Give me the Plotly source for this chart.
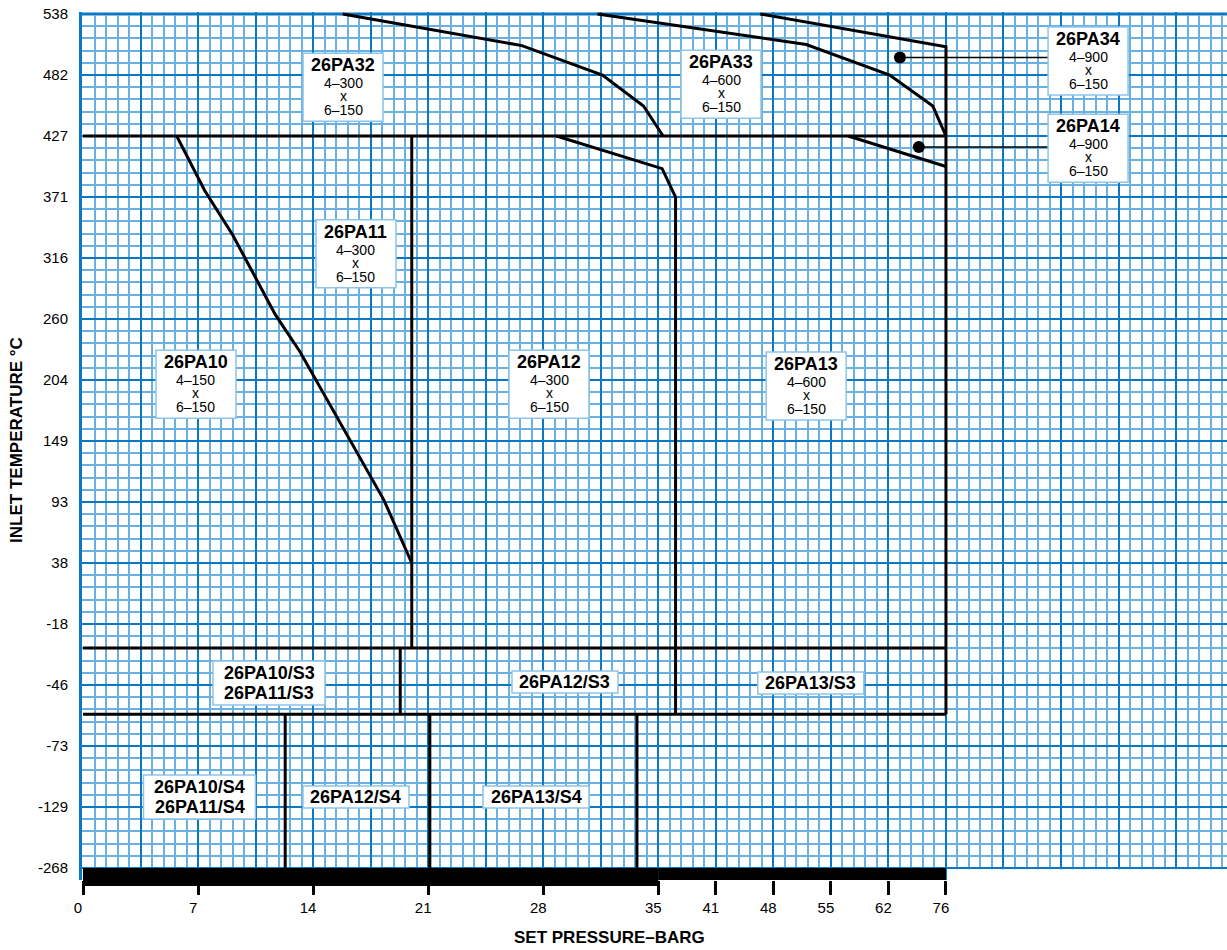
import numpy as np
import plotly.graph_objects as go

# axis labels (barg / degC) and where they sit on the chart grid
x_labels = [0, 7, 14, 21, 28, 35, 41, 48, 55, 62, 76]
x_grid_pos = [0, 2, 4, 6, 8, 10, 11, 12, 13, 14, 15]
y_labels = [-268, -129, -73, -46, -18, 38, 93, 149, 204, 260, 316, 371, 427, 482, 538]
y_grid_pos = list(range(len(y_labels)))

# boundary lines, pressure in barg / temperature in degC
t427_p = [0, 76]
t427_t = [427, 427]
pa10_p = [5.7, 7.4, 9.1, 11.7, 13.2, 18.3, 20.0]
pa10_t = [427, 377, 337, 264, 230, 95, 38]
pa11_p = [20.0, 20.0]
pa11_t = [427, -29]
pa12_p = [28.8, 35.4, 36.8, 36.8]
pa12_t = [427, 397, 371, -59]
pa32_p = [15.8, 26.7, 31.6, 34.1, 35.5]
pa32_t = [538, 509, 482, 454, 427]
pa33_p = [31.3, 52.0, 62.3, 72.8, 76]
pa33_t = [538, 510, 482, 454, 427]
pa34_p = [46.4, 76, 76]
pa34_t = [538, 508, -59]
pa14_p = [57.1, 76]
pa14_t = [427, 399]
s3_top_p = [0, 76]
s3_top_t = [-29, -29]
s3_bot_p = [0, 76]
s3_bot_t = [-59, -59]
s3_split_p = [19.3, 19.3]
s3_split_t = [-29, -59]
s4_splits = [12.3, 21.1, 33.7]
s4_t = [-59, -268]
bar_split = 35
bar_end = 76

# pointer dots
dot_p = [64.8, 69.4]
dot_t = [498, 417]

# region labels: name, sizes, box centre on the grid
model_names = ["26PA32", "26PA33", "26PA34", "26PA14", "26PA11", "26PA10", "26PA12", "26PA13"]
model_inlet = ["4–300", "4–600", "4–900", "4–900", "4–300", "4–150", "4–300", "4–600"]
model_outlet = ["6–150"] * 8
model_gx = [4.52, 11.09, 17.47, 17.47, 4.745, 1.964, 8.10, 12.57]
model_gy = [12.80, 12.85, 13.23, 11.80, 10.07, 7.93, 7.93, 7.90]

low_labels = [["26PA10/S3", "26PA11/S3"], ["26PA12/S3"], ["26PA13/S3"],
              ["26PA10/S4", "26PA11/S4"], ["26PA12/S4"], ["26PA13/S4"]]
low_gx = [3.233, 8.378, 12.65, 2.025, 4.745, 7.874]
low_gy = [3.033, 3.049, 3.033, 1.164, 1.164, 1.164]


def gx(v):
    return np.interp(v, x_labels, x_grid_pos)


def gy(v):
    return np.interp(v, y_labels, y_grid_pos)


BLUE = "#0a78c2"
LIGHT = "#6ab0e0"
EDGE = "#8cc4ea"
FONT = "Liberation Sans, Arial, sans-serif"
XR = [-0.0174, 19.885]
YR = [-12 / 61, 856 / 61]
PXX = 57.53  # pixels per grid unit
PXY = 61.0

fig = go.Figure()

lines = [
    (t427_p, t427_t), (pa10_p, pa10_t), (pa11_p, pa11_t), (pa12_p, pa12_t),
    (pa32_p, pa32_t), (pa33_p, pa33_t), (pa34_p, pa34_t), (pa14_p, pa14_t),
    (s3_top_p, s3_top_t), (s3_bot_p, s3_bot_t), (s3_split_p, s3_split_t),
]
for p in s4_splits:
    lines.append(([p, p], s4_t))

for p, t in lines:
    fig.add_scatter(x=gx(p), y=gy(t), mode="lines",
                    line=dict(color="black", width=3), hoverinfo="skip")

# pointer lines out to the right-hand boxes
for p, t in zip(dot_p, dot_t):
    fig.add_shape(type="line", x0=gx(p), x1=16.81, y0=gy(t), y1=gy(t),
                  line=dict(color="black", width=1.5), layer="above")

fig.add_scatter(x=gx(dot_p), y=gy(dot_t), mode="markers",
                marker=dict(color="black", size=12), hoverinfo="skip")

# dummy trace so the label axis is drawn
fig.add_scatter(x=[0], y=[0], xaxis="x2", mode="markers",
                marker=dict(opacity=0), hoverinfo="skip")

# black bar under the grid
h = 868
fig.add_shape(type="rect", xref="x", yref="paper", x0=0, x1=gx(bar_split),
              y0=-6 / h, y1=12 / h, fillcolor="black", line_width=0, layer="above")
fig.add_shape(type="rect", xref="x", yref="paper", x0=gx(bar_split), x1=gx(bar_end),
              y0=0, y1=12 / h, fillcolor="black", line_width=0, layer="above")
fig.add_shape(type="rect", xref="x", yref="y", x0=gx(bar_end) + 0.02, x1=21,
              y0=-0.3, y1=-0.02, fillcolor="white", line_width=0, layer="above")
# heavier top border
fig.add_shape(type="line", xref="x", yref="y", x0=-0.02, x1=21, y0=14, y1=14,
              line=dict(color=BLUE, width=3), layer="below")


def box(cx, cy, w, hgt):
    fig.add_shape(type="rect", x0=cx - w / 2 / PXX, x1=cx + w / 2 / PXX,
                  y0=cy - hgt / 2 / PXY, y1=cy + hgt / 2 / PXY,
                  fillcolor="white", line=dict(color=EDGE, width=1.5), layer="above")


def text(cx, cy, t, shift, size, bold):
    fig.add_annotation(x=cx, y=cy, text="<b>%s</b>" % t if bold else t, showarrow=False,
                       xanchor="center", yanchor="middle", yshift=shift,
                       font=dict(family=FONT, size=size, color="black"))


for name, a, b, x, y in zip(model_names, model_inlet, model_outlet, model_gx, model_gy):
    box(x, y, 80, 68)
    text(x, y, name, 22, 18, True)
    text(x, y, a, 4, 14, False)
    text(x, y, "x", -9, 14, False)
    text(x, y, b, -23, 14, False)

for rows, x, y in zip(low_labels, low_gx, low_gy):
    if len(rows) == 2:
        box(x, y, 112, 44)
        text(x, y, rows[0], 10, 18, True)
        text(x, y, rows[1], -10, 18, True)
    else:
        box(x, y, 106, 22)
        text(x, y, rows[0], 0, 18, True)

fig.add_annotation(xref="paper", yref="paper", x=-0.0568, y=0.507,
                   xanchor="center", yanchor="middle",
                   text="<b>INLET TEMPERATURE °C</b>", textangle=-90, showarrow=False,
                   font=dict(family=FONT, size=17, color="black"))
fig.add_annotation(xref="paper", yref="paper", x=0.461, y=-0.0668,
                   xanchor="center", yanchor="middle",
                   text="<b>SET PRESSURE–BARG</b>", showarrow=False,
                   font=dict(family=FONT, size=17, color="black"))

fig.update_layout(
    width=1227, height=950,
    margin=dict(l=82, r=0, t=12, b=70),
    plot_bgcolor="white", paper_bgcolor="white",
    showlegend=False,
    font=dict(family=FONT, size=15, color="black"),
    xaxis=dict(range=XR, tickmode="linear", tick0=0, dtick=1, showticklabels=False,
               ticks="", showgrid=True, gridcolor=BLUE, gridwidth=2, zeroline=False,
               minor=dict(tick0=0, dtick=0.2, showgrid=True, gridcolor=LIGHT, gridwidth=1.5)),
    xaxis2=dict(range=XR, overlaying="x", anchor="y", side="bottom",
                tickmode="array", tickvals=gx(x_labels), ticktext=[str(v) for v in x_labels],
                ticks="outside", ticklen=14, tickwidth=3, tickcolor="black",
                ticklabelshift=-5, showgrid=False, zeroline=False,
                tickfont=dict(family=FONT, size=15, color="black")),
    yaxis=dict(range=YR, tickmode="array", tickvals=gy(y_labels),
               ticktext=[str(v) for v in y_labels], ticks="", ticklabelstandoff=8,
               showgrid=True, gridcolor=BLUE, gridwidth=2, zeroline=False,
               showline=True, linecolor=BLUE, linewidth=3,
               minor=dict(tick0=0, dtick=0.2, showgrid=True, gridcolor=LIGHT, gridwidth=1.5),
               tickfont=dict(family=FONT, size=15, color="black")),
)

fig.write_html("out.html", config={"displayModeBar": False},
               post_script="document.body.style.margin='0';")
